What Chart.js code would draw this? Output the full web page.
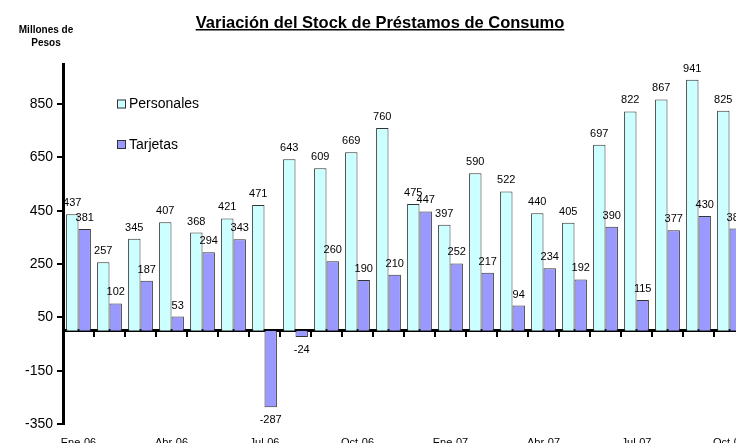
<!DOCTYPE html>
<html><head><meta charset="utf-8">
<style>
html,body{margin:0;padding:0;background:#fff;overflow:hidden;width:736px;height:443px}
#wrap{position:absolute;left:0;top:0;width:760px;height:470px}
</style>
<script src="https://cdn.jsdelivr.net/npm/chart.js@4"></script>
</head><body><div id="wrap"><canvas id="c" width="760" height="470"></canvas></div>
<script>
const categories = ['Ene-06','Feb-06','Mar-06','Abr-06','May-06','Jun-06','Jul-06','Ago-06','Sep-06','Oct-06','Nov-06','Dic-06','Ene-07','Feb-07','Mar-07','Abr-07','May-07','Jun-07','Jul-07','Ago-07','Sep-07','Oct-07'];
const personales = [437,257,345,407,368,421,471,643,609,669,760,475,397,590,522,440,405,697,822,867,941,825];
const tarjetas = [381,102,187,53,294,343,-287,-24,260,190,210,447,252,217,94,234,192,390,115,377,430,383];
const yTicks = [-350,-150,50,250,450,650,850];
const yMin = -350, yMax = 1000;
const chartTitle = 'Variación del Stock de Préstamos de Consumo';
const unitLabel = ['Millones de','Pesos'];
const seriesNames = ['Personales','Tarjetas'];

const FONT = "'Liberation Sans', Arial, sans-serif";
Chart.defaults.font.family = FONT;
Chart.defaults.color = '#000';

const decor = {
  id: 'decor',
  afterDatasetsDraw(chart) {
    const ctx = chart.ctx;
    ctx.save();
    ctx.font = '11px ' + FONT;
    ctx.fillStyle = '#000';
    ctx.textAlign = 'center';
    ctx.textBaseline = 'alphabetic';
    chart.data.datasets.forEach((ds, di) => {
      const meta = chart.getDatasetMeta(di);
      meta.data.forEach((bar, i) => {
        const v = ds.data[i];
        const y = v >= 0 ? bar.y - 8 : bar.y + 15.5;
        ctx.fillText(String(v), bar.x, y);
      });
    });
    ctx.restore();
  },
  afterDraw(chart) {
    const ctx = chart.ctx;
    const area = chart.chartArea;
    ctx.save();
    // title
    ctx.font = 'bold 16.5px ' + FONT;
    ctx.fillStyle = '#000';
    ctx.textAlign = 'center';
    ctx.textBaseline = 'alphabetic';
    const tx = 380, ty = 27.5;
    ctx.fillText(chartTitle, tx, ty);
    const w = ctx.measureText(chartTitle).width;
    ctx.fillRect(tx - w / 2, ty + 1.5, w, 1.5);
    // unit label
    ctx.font = 'bold 10px ' + FONT;
    ctx.textBaseline = 'middle';
    ctx.fillText(unitLabel[0], 46, 30);
    ctx.fillText(unitLabel[1], 46, 43);
    // legend
    ctx.font = '14px ' + FONT;
    ctx.textAlign = 'left';
    chart.data.datasets.forEach((ds, di) => {
      const bx = area.left + 54, by = area.top + 35.5 + di * 40.5;
      ctx.fillStyle = ds.backgroundColor;
      ctx.fillRect(bx, by, 9, 9);
      ctx.strokeStyle = '#333';
      ctx.lineWidth = 1;
      ctx.strokeRect(bx + 0.5, by + 0.5, 8, 8);
      ctx.fillStyle = '#000';
      ctx.fillText(ds.label, bx + 12, by + 5);
    });
    ctx.restore();
  }
};

new Chart(document.getElementById('c'), {
  type: 'bar',
  data: {
    labels: categories,
    datasets: [
      { label: seriesNames[0], data: personales, backgroundColor: '#CCFFFF', borderColor: '#333333', borderWidth: 1, categoryPercentage: 0.8, barPercentage: 1.0 },
      { label: seriesNames[1], data: tarjetas, backgroundColor: '#9999FF', borderColor: '#333333', borderWidth: 1, categoryPercentage: 0.8, barPercentage: 1.0 }
    ]
  },
  options: {
    responsive: false,
    devicePixelRatio: 1,
    animation: false,
    layout: { padding: { top: 64, left: 0, right: 15, bottom: 16 } },
    plugins: { legend: { display: false }, tooltip: { enabled: false }, title: { display: false } },
    scales: {
      x: {
        type: 'category',
        position: { y: 0 },
        offset: true,
        z: 1,
        grid: { display: true, offset: true, drawOnChartArea: false, drawTicks: true, tickLength: 5, color: '#000', lineWidth: 2 },
        border: { display: true, color: '#000', width: 3 },
        ticks: { display: false },
        afterFit(s) { s.height = 0; }
      },
      xLabels: {
        type: 'category',
        position: 'bottom',
        offset: true,
        grid: { display: false, drawTicks: false, offset: true },
        border: { display: false },
        ticks: {
          autoSkip: false, maxRotation: 0, minRotation: 0, padding: 12,
          font: { size: 11 }, color: '#000',
          callback: (v, i) => (i % 3 === 0 ? categories[i] : '')
        },
        afterFit(s) { s.height = 30; }
      },
      y: {
        type: 'linear',
        position: 'left',
        min: yMin,
        max: yMax,
        z: 1,
        afterBuildTicks(s) { s.ticks = yTicks.map(v => ({ value: v })); },
        grid: { display: true, drawOnChartArea: false, drawTicks: true, tickLength: 6, color: '#000', lineWidth: 2 },
        border: { display: true, color: '#000', width: 3 },
        ticks: { font: { size: 14 }, color: '#000', padding: 4 },
        afterFit(s) { s.width = 63; }
      }
    }
  },
  plugins: [decor]
});
</script>
</body></html>
